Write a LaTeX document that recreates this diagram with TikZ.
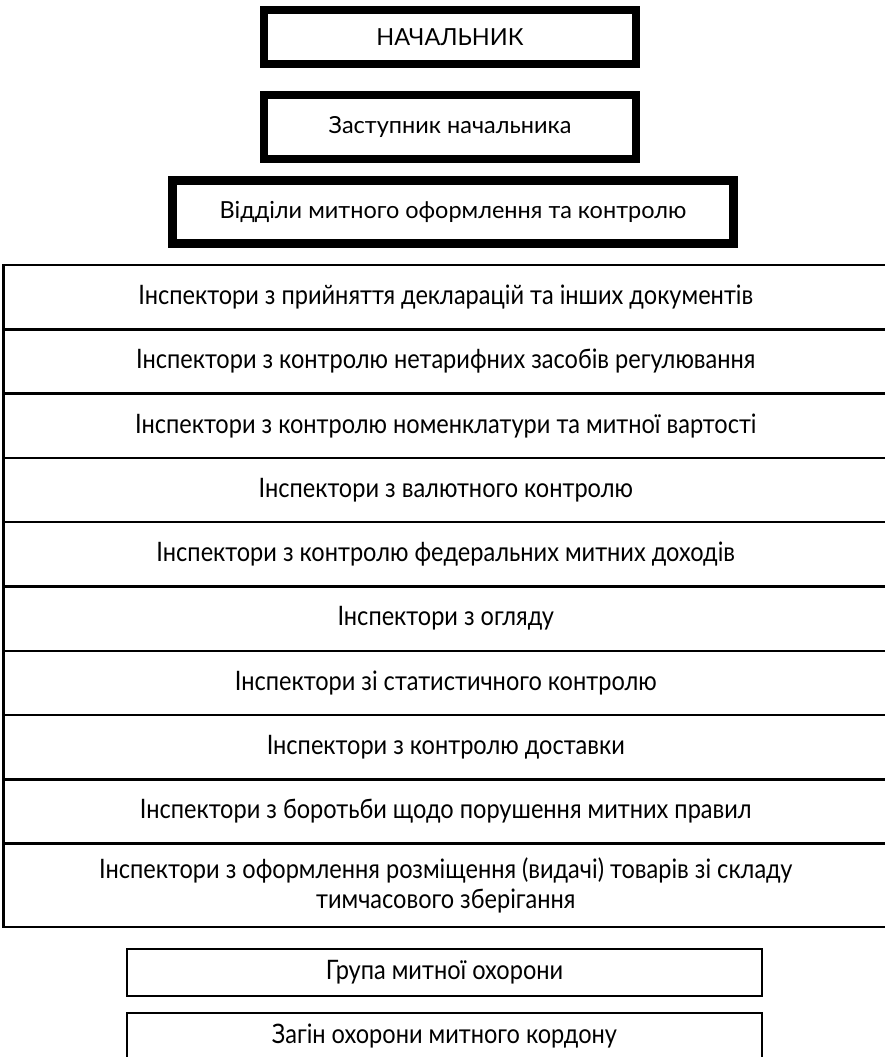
\documentclass[tikz,border=0pt]{standalone}
\usepackage{fontspec}
\setmainfont{Lato}
\newfontfamily\rowfont[FakeStretch=0.88]{Lato}
\usetikzlibrary{positioning}
\begin{document}
\begin{tikzpicture}[x=1pt,y=-1pt,
    head/.style={draw,line width=8pt,inner sep=0pt,outer sep=0pt,font=\fontsize{23.5}{28}\selectfont},
    row/.style={draw,line width=2.5pt,minimum width=884.5pt,minimum height=64.3pt,inner sep=0pt,outer sep=0pt,align=center,font=\rowfont\fontsize{26.8}{30}\selectfont},
    guard/.style={draw,line width=2pt,minimum width=635pt,minimum height=47pt,inner sep=0pt,outer sep=0pt,font=\rowfont\fontsize{26.8}{30}\selectfont}]
    \useasboundingbox (0,0) rectangle (884,1057);

    \node[head,minimum width=372pt,minimum height=54pt] (chief) at (450,37) {НАЧАЛЬНИК};
    \node[head,minimum width=372pt,minimum height=64pt] (deputy) at (450,127) {Заступник начальника};
    \node[head,line width=9pt,minimum width=561pt,minimum height=63pt] (dept) at (453,212) {Відділи митного оформлення та контролю};

    \node[row] (r1) at (445.75,297.15) {Інспектори з прийняття декларацій та інших документів};
    \node[row,below=0pt of r1] (r2) {Інспектори з контролю нетарифних засобів регулювання};
    \node[row,below=0pt of r2] (r3) {Інспектори з контролю номенклатури та митної вартості};
    \node[row,below=0pt of r3] (r4) {Інспектори з валютного контролю};
    \node[row,below=0pt of r4] (r5) {Інспектори з контролю федеральних митних доходів};
    \node[row,below=0pt of r5] (r6) {Інспектори з огляду};
    \node[row,below=0pt of r6] (r7) {Інспектори зі статистичного контролю};
    \node[row,below=0pt of r7] (r8) {Інспектори з контролю доставки};
    \node[row,below=0pt of r8] (r9) {Інспектори з боротьби щодо порушення митних правил};
    \node[row,minimum height=83.3pt,below=0pt of r9] (r10) {Інспектори з оформлення розміщення (видачі) товарів зі складу\\тимчасового зберігання};

    \node[guard] (group) at (444.5,972.5) {Група митної охорони};
    \node[guard] (squad) at (444.5,1036.5) {Загін охорони митного кордону};
  \end{tikzpicture}
\end{document}
